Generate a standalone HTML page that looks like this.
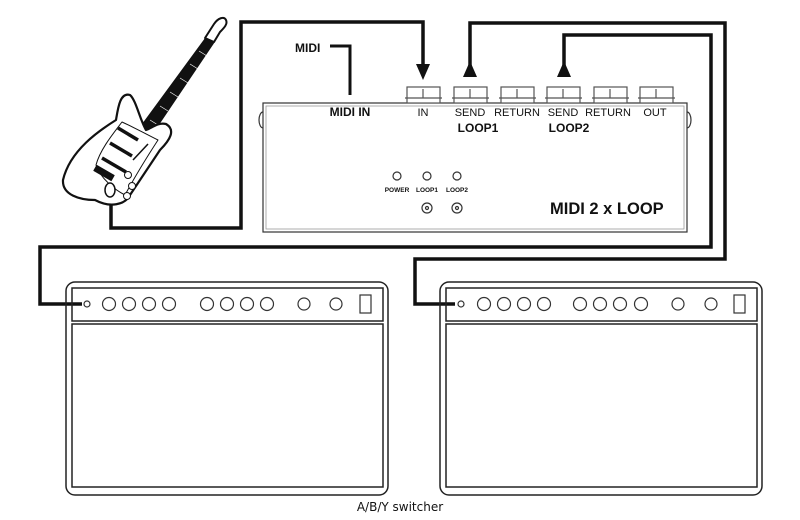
<!DOCTYPE html>
<html><head><meta charset="utf-8"><style>
html,body{margin:0;padding:0;background:#fff;}
svg{display:block;}
text{font-family:"Liberation Sans",Arial,sans-serif;fill:#111;}
</style></head><body>
<svg width="800" height="520" viewBox="0 0 800 520" xmlns="http://www.w3.org/2000/svg">
<g fill="none" stroke="#111" stroke-width="3.5" stroke-linejoin="miter">
<polyline points="111,200 111,228 241,228 241,22 423,22 423,70"/>
<polyline points="470,70 470,23 725,23 725,259 415,259 415,304 455,304"/>
<polyline points="564,70 564,35 711,35 711,247 40,247 40,304 82,304"/>
<polyline points="330,46 350,46 350,95" stroke-width="3"/>
</g>
<polygon points="416,64 430,64 423,80" fill="#111"/>
<polygon points="463,77 477,77 470,61" fill="#111"/>
<polygon points="557,77 571,77 564,61" fill="#111"/>
<text x="295" y="52" font-size="12" font-weight="bold">MIDI</text>
<g fill="#fff" stroke="#333" stroke-width="1.2">
<path d="M263,112 a4,8 0 0 0 0,16" />
<path d="M687,112 a4,8 0 0 1 0,16" />
<rect x="263" y="103" width="424" height="129"/>
<rect x="266" y="106" width="418" height="123" stroke="#999" stroke-width="0.8"/>
<g stroke="#555">
<rect x="407" y="87" width="33" height="16"/><line x1="423" y1="89" x2="423" y2="98"/><line x1="405" y1="98" x2="442" y2="98"/>
<rect x="454" y="87" width="33" height="16"/><line x1="470" y1="89" x2="470" y2="98"/><line x1="452" y1="98" x2="489" y2="98"/>
<rect x="501" y="87" width="33" height="16"/><line x1="517" y1="89" x2="517" y2="98"/><line x1="499" y1="98" x2="536" y2="98"/>
<rect x="547" y="87" width="33" height="16"/><line x1="563" y1="89" x2="563" y2="98"/><line x1="545" y1="98" x2="582" y2="98"/>
<rect x="594" y="87" width="33" height="16"/><line x1="610" y1="89" x2="610" y2="98"/><line x1="592" y1="98" x2="629" y2="98"/>
<rect x="640" y="87" width="33" height="16"/><line x1="656" y1="89" x2="656" y2="98"/><line x1="638" y1="98" x2="675" y2="98"/>
</g>
<circle cx="397" cy="176" r="4"/><circle cx="427" cy="176" r="4"/><circle cx="457" cy="176" r="4"/>
<circle cx="427" cy="208" r="5"/><circle cx="427" cy="208" r="1.5"/>
<circle cx="457" cy="208" r="5"/><circle cx="457" cy="208" r="1.5"/>
</g>
<g font-size="11" text-anchor="middle">
<text x="350" y="116" font-weight="bold" font-size="12">MIDI IN</text>
<text x="423" y="116">IN</text>
<text x="470" y="116">SEND</text>
<text x="517" y="116">RETURN</text>
<text x="563" y="116">SEND</text>
<text x="608" y="116">RETURN</text>
<text x="655" y="116">OUT</text>
<text x="478" y="132" font-weight="bold" font-size="12">LOOP1</text>
<text x="569" y="132" font-weight="bold" font-size="12">LOOP2</text>
</g>
<g font-size="6.5" font-weight="bold" text-anchor="middle">
<text x="397" y="192">POWER</text><text x="427" y="192">LOOP1</text><text x="457" y="192">LOOP2</text>
</g>
<text x="550" y="214" font-size="16.5" font-weight="bold">MIDI 2 x LOOP</text>
<g fill="none" stroke="#222" stroke-width="1.5">
<rect x="66" y="282" width="322" height="213" rx="9"/>
<rect x="72" y="288" width="311" height="33"/>
<rect x="72" y="324" width="311" height="163"/>
<rect x="440" y="282" width="322" height="213" rx="9"/>
<rect x="446" y="288" width="311" height="33"/>
<rect x="446" y="324" width="311" height="163"/>
</g>
<g fill="#fff" stroke="#333" stroke-width="1.2">
<circle cx="87" cy="304" r="3"/>
<circle cx="109" cy="304" r="6.5"/><circle cx="129" cy="304" r="6.5"/><circle cx="149" cy="304" r="6.5"/><circle cx="169" cy="304" r="6.5"/>
<circle cx="207" cy="304" r="6.5"/><circle cx="227" cy="304" r="6.5"/><circle cx="247" cy="304" r="6.5"/><circle cx="267" cy="304" r="6.5"/>
<circle cx="304" cy="304" r="6"/><circle cx="336" cy="304" r="6"/>
<rect x="360" y="295" width="11" height="18"/>
<circle cx="461" cy="304" r="3"/>
<circle cx="484" cy="304" r="6.5"/><circle cx="504" cy="304" r="6.5"/><circle cx="524" cy="304" r="6.5"/><circle cx="544" cy="304" r="6.5"/>
<circle cx="580" cy="304" r="6.5"/><circle cx="600" cy="304" r="6.5"/><circle cx="620" cy="304" r="6.5"/><circle cx="641" cy="304" r="6.5"/>
<circle cx="678" cy="304" r="6"/><circle cx="711" cy="304" r="6"/>
<rect x="734" y="295" width="11" height="18"/>
</g>
<!-- guitar -->
<g stroke="#111" stroke-linejoin="round">
<path d="M140,128 L206,38 L214,42 L152,134 Z" fill="#111" stroke-width="1.5"/>
<g stroke="#fff" stroke-width="0.6">
<line x1="150" y1="120" x2="158" y2="125"/><line x1="160" y1="106" x2="168" y2="111"/><line x1="170" y1="92" x2="178" y2="97"/><line x1="180" y1="78" x2="188" y2="83"/><line x1="190" y1="64" x2="198" y2="69"/><line x1="199" y1="51" x2="207" y2="56"/>
</g>
<path d="M205,38 L214,24 C218,18 224,16 226,20 C228,24 224,28 220,32 L214,42 Z" fill="#fff" stroke-width="2"/>
<path d="M130,95 C120,92 118,108 116,120 C100,130 70,150 63,180 C62,195 80,200 95,200 C110,208 125,205 130,195 C140,180 150,165 160,150 C170,140 176,130 166,124 C158,122 152,128 146,130 C140,120 136,100 130,95 Z" fill="#fff" stroke-width="2.2"/>
<path d="M122,122 C112,135 100,150 96,165 C100,178 115,190 125,195 C132,182 145,160 158,140 C148,135 135,128 122,122 Z" fill="#fff" stroke-width="1"/>
<g stroke-width="3.5">
<line x1="118" y1="128" x2="138" y2="140"/>
<line x1="110" y1="143" x2="132" y2="156"/>
<line x1="102" y1="158" x2="126" y2="172"/>
</g>
<rect x="94" y="170" width="20" height="6" fill="#111" transform="rotate(30 104 173)"/>
<line x1="133" y1="160" x2="148" y2="144" stroke-width="1.5"/>
<circle cx="128" cy="175" r="3.5" fill="#fff"/><circle cx="132" cy="186" r="3.5" fill="#fff"/><circle cx="127" cy="196" r="3.5" fill="#fff"/>
<path d="M105,190 a5,7 0 1 0 10,0 a5,7 0 1 0 -10,0" fill="#fff" stroke-width="1.5"/>
</g>
<text x="400" y="511" font-size="12" text-anchor="middle" style="font-family:'DejaVu Sans',sans-serif">A/B/Y switcher</text>
</svg>
</body></html>
